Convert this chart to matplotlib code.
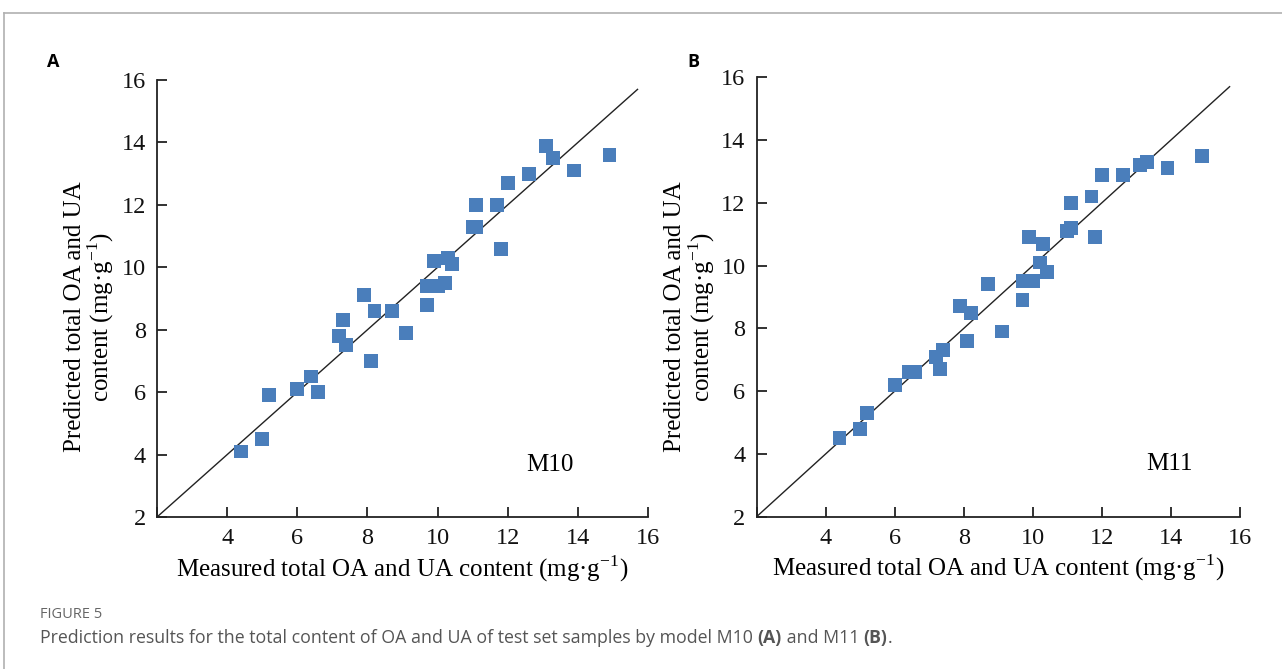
import numpy as np
import matplotlib.pyplot as plt
from matplotlib.lines import Line2D

# Панель A: модель M10
m10_meas = [4.4, 5.0, 5.2, 6.0, 6.4, 6.6, 7.2, 7.3, 7.4, 7.9, 8.1, 8.2, 8.7, 9.1,
            9.7, 9.7, 10.0, 9.9, 10.2, 10.3, 10.4, 11.0, 11.1, 11.1, 11.7, 11.8,
            12.0, 12.6, 13.1, 13.3, 13.9, 14.9]
m10_pred = [4.1, 4.5, 5.9, 6.1, 6.5, 6.0, 7.8, 8.3, 7.5, 9.1, 7.0, 8.6, 8.6, 7.9,
            8.8, 9.4, 9.4, 10.2, 9.5, 10.3, 10.1, 11.3, 11.3, 12.0, 12.0, 10.6,
            12.7, 13.0, 13.9, 13.5, 13.1, 13.6]

# Панель B: модель M11
m11_meas = [4.4, 5.0, 5.2, 6.0, 6.4, 6.6, 7.2, 7.3, 7.4, 7.9, 8.1, 8.2, 8.7, 9.1,
            9.7, 9.7, 10.0, 9.9, 10.2, 10.3, 10.4, 11.0, 11.1, 11.1, 11.7, 11.8,
            12.0, 12.6, 13.1, 13.3, 13.9, 14.9]
m11_pred = [4.5, 4.8, 5.3, 6.2, 6.6, 6.6, 7.1, 6.7, 7.3, 8.7, 7.6, 8.5, 9.4, 7.9,
            8.9, 9.5, 9.5, 10.9, 10.1, 10.7, 9.8, 11.1, 11.2, 12.0, 12.2, 10.9,
            12.9, 12.9, 13.2, 13.3, 13.1, 13.5]

ticks = [2, 4, 6, 8, 10, 12, 14, 16]
xtick_labels = ['', '4', '6', '8', '10', '12', '14', '16']
line_end = 15.7

serif = ['Liberation Serif', 'DejaVu Serif']
sans = ['Open Sans', 'DejaVu Sans']
blue = '#4a7ebb'
fs = 18

fig = plt.figure(figsize=(12.82, 6.69), dpi=100)

# рамка страницы
fig.add_artist(Line2D([4 / 1282, 1], [1 - 13 / 669] * 2, color='#b0b0b0', lw=1.2,
                      transform=fig.transFigure))
fig.add_artist(Line2D([4 / 1282] * 2, [0, 1 - 13 / 669], color='#b0b0b0', lw=1.2,
                      transform=fig.transFigure))

panels = [
    ([0.1225, 0.2272, 0.383, 0.6532], m10_meas, m10_pred, 'M10', 13.2, 'A', 0.037,
     (-0.083, 0.458)),
    ([0.5902, 0.2277, 0.377, 0.6568], m11_meas, m11_pred, 'M11', 13.95, 'B', 0.536,
     (-0.082, 0.455)),
]

for rect, xs, ys, name, name_x, letter, letter_x, ylab_pos in panels:
    ax = fig.add_axes(rect)
    ax.plot([2, line_end], [2, line_end], color='#222222', lw=1.0, zorder=1)
    ax.scatter(xs, ys, marker='s', s=100, color=blue, edgecolors='none', zorder=2)
    ax.set_xlim(2, 16)
    ax.set_ylim(2, 16)
    ax.set_xticks(ticks)
    ax.set_xticklabels(xtick_labels)
    ax.set_yticks(ticks)
    ax.spines['top'].set_visible(False)
    ax.spines['right'].set_visible(False)
    for sp in ['left', 'bottom']:
        ax.spines[sp].set_linewidth(1.3)
        ax.spines[sp].set_color('#222222')
    ax.tick_params(direction='in', length=7, width=1.3, colors='#222222',
                   labelsize=17.5, pad=8)
    for lab in ax.get_xticklabels() + ax.get_yticklabels():
        lab.set_family(serif)
        lab.set_color('#111111')
    ax.set_xlabel('Measured total OA and UA content (mg·g$^{\\mathregular{-1}}$)',
                  fontsize=fs, family=serif, labelpad=3)
    ax.set_ylabel('Predicted total OA and UA\ncontent (mg·g$^{\\mathregular{-1}}$)',
                  fontsize=fs, family=serif, linespacing=1.0)
    ax.yaxis.set_label_coords(*ylab_pos)
    ax.text(name_x, 3.67, name, fontsize=fs, family=serif, ha='center', va='center')
    fig.text(letter_x, 1 - 62 / 669, letter, fontsize=13, fontweight='bold',
             family=sans, va='center')

fig.text(40 / 1282, 1 - 614 / 669, 'FIGURE 5', fontsize=10.5, family=sans,
         color='#666666', va='center')
fig.text(40 / 1282, 1 - 638 / 669,
         'Prediction results for the total content of OA and UA of test set samples by model M10 ',
         fontsize=12.8, family=sans, color='#555555', va='center')

# подпись с жирными буквами
cap = fig.texts[-1]
fig.canvas.draw()
bb = cap.get_window_extent()
x0 = bb.x1 / fig.bbox.width
parts = [('(A)', 'bold'), (' and M11 ', 'normal'), ('(B)', 'bold'), ('.', 'normal')]
for txt, wt in parts:
    t = fig.text(x0, 1 - 638 / 669, txt, fontsize=12.8, family=sans, color='#555555',
                 va='center', fontweight=wt)
    fig.canvas.draw()
    x0 = t.get_window_extent().x1 / fig.bbox.width

fig.savefig('out.png', dpi=100)
